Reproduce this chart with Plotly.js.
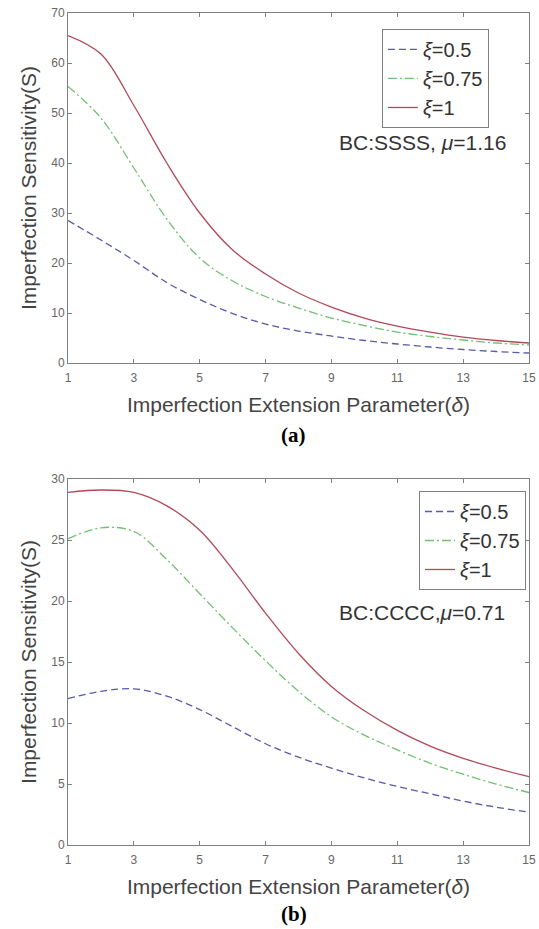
<!DOCTYPE html>
<html>
<head>
<meta charset="utf-8">
<script src="https://cdn.plot.ly/plotly-3.0.1.min.js"></script>
<style>
html,body{margin:0;padding:0;background:#fff;}
#chart{width:539px;height:929px;}
</style>
</head>
<body>
<div id="chart"></div>
<script>
// Shared x values (imperfection extension parameter delta)
const delta = [1,2,3,4,5,6,7,8,9,10,11,12,13,14,15];
const xTicks = [1,3,5,7,9,11,13,15];

// (a) BC:SSSS, mu=1.16
const ssss_xi050 = [28.5,24.6,20.5,16.1,12.7,9.9,7.8,6.4,5.4,4.5,3.8,3.2,2.7,2.3,2.0];
const ssss_xi075 = [55.3,49.0,39.0,28.8,21.0,16.4,13.3,11.0,9.0,7.5,6.2,5.3,4.6,4.0,3.6];
const ssss_xi100 = [65.5,61.8,51.5,40.0,30.0,22.6,17.8,14.0,11.2,9.0,7.4,6.2,5.2,4.5,4.0];

// (b) BC:CCCC, mu=0.71
const cccc_xi050 = [12.0,12.6,12.8,12.2,11.1,9.7,8.3,7.2,6.3,5.5,4.8,4.2,3.6,3.1,2.7];
const cccc_xi075 = [25.1,26.0,25.7,23.4,20.6,17.8,15.1,12.6,10.5,9.0,7.8,6.7,5.8,5.0,4.3];
const cccc_xi100 = [28.9,29.1,28.9,27.8,25.8,22.6,19.0,15.7,13.0,11.0,9.4,8.1,7.1,6.3,5.6];

const seriesNames = ['<i>ξ</i>=0.5','<i>ξ</i>=0.75','<i>ξ</i>=1'];
const colors = ['#5a5aa8','#72c072','#b04a5a'];
const dashes = ['7px,4px','9px,3px,2px,3px','solid'];

function mk(y, i, xa, ya, leg){
  return {x: delta, y: y, xaxis: xa, yaxis: ya, legend: leg, type:'scatter', mode:'lines',
    name: seriesNames[i], line:{color: colors[i], width:1.3, dash: dashes[i], shape:'spline', smoothing:1}};
}
const traces = [
  mk(ssss_xi050,0,'x','y','legend'), mk(ssss_xi075,1,'x','y','legend'), mk(ssss_xi100,2,'x','y','legend'),
  mk(cccc_xi050,0,'x2','y2','legend2'), mk(cccc_xi075,1,'x2','y2','legend2'), mk(cccc_xi100,2,'x2','y2','legend2')
];

const F = 'Liberation Sans, Arial, sans-serif';
const axCommon = {showline:true, mirror:'ticks', linecolor:'#808080', linewidth:1,
  ticks:'inside', ticklen:4, tickcolor:'#808080', showgrid:false, zeroline:false,
  tickfont:{family:F, size:12, color:'#666'}};
const xTitle = {text:'Imperfection Extension Parameter(<i>δ</i>)', font:{family:F, size:21, color:'#444'}, standoff:12};
const yTitle = {text:'Imperfection Sensitivity(S)', font:{family:F, size:21, color:'#444'}, standoff:8};

const layout = {
  width:539, height:929, showlegend:true,
  margin:{l:68, r:10, t:13, b:84},
  paper_bgcolor:'#fff', plot_bgcolor:'#fff',
  xaxis: Object.assign({}, axCommon, {range:[1,15], tickvals:xTicks, domain:[0,1], anchor:'y', title:xTitle, ticklabelstandoff:4}),
  yaxis: Object.assign({}, axCommon, {range:[0,70], dtick:10, domain:[0.5793,1], anchor:'x', title:yTitle}),
  xaxis2: Object.assign({}, axCommon, {range:[1,15], tickvals:xTicks, domain:[0,1], anchor:'y2', title:xTitle, ticklabelstandoff:4}),
  yaxis2: Object.assign({}, axCommon, {range:[0,30], dtick:5, domain:[0,0.4399], anchor:'x2', title:yTitle}),
  legend:{x:0.913, xanchor:'right', y:0.9808, yanchor:'top', bgcolor:'#fff', bordercolor:'#808080', borderwidth:1,
    font:{family:F, size:20, color:'#333'}, tracegroupgap:0},
  legend2:{x:0.9935, xanchor:'right', y:0.4255, yanchor:'top', bgcolor:'#fff', bordercolor:'#808080', borderwidth:1,
    font:{family:F, size:20, color:'#333'}, tracegroupgap:0},
  annotations:[
    {text:'BC:SSSS, <i>μ</i>=1.16', xref:'paper', yref:'paper', x:0.768, y:0.8438, xanchor:'center', yanchor:'middle', showarrow:false, font:{family:F, size:21, color:'#333'}},
    {text:'BC:CCCC,<i>μ</i>=0.71', xref:'paper', yref:'paper', x:0.767, y:0.28, xanchor:'center', yanchor:'middle', showarrow:false, font:{family:F, size:21, color:'#333'}},
    {text:'<b>(a)</b>', xref:'paper', yref:'paper', x:0.49, y:1-(435-13)/832, xanchor:'center', yanchor:'middle', showarrow:false, font:{family:'Liberation Serif, Times New Roman, serif', size:21, color:'#000'}},
    {text:'<b>(b)</b>', xref:'paper', yref:'paper', x:0.49, y:1-(914-13)/832, xanchor:'center', yanchor:'middle', showarrow:false, font:{family:'Liberation Serif, Times New Roman, serif', size:21, color:'#000'}}
  ]
};
Plotly.newPlot('chart', traces, layout, {displayModeBar:false, staticPlot:true});
</script>
</body>
</html>
